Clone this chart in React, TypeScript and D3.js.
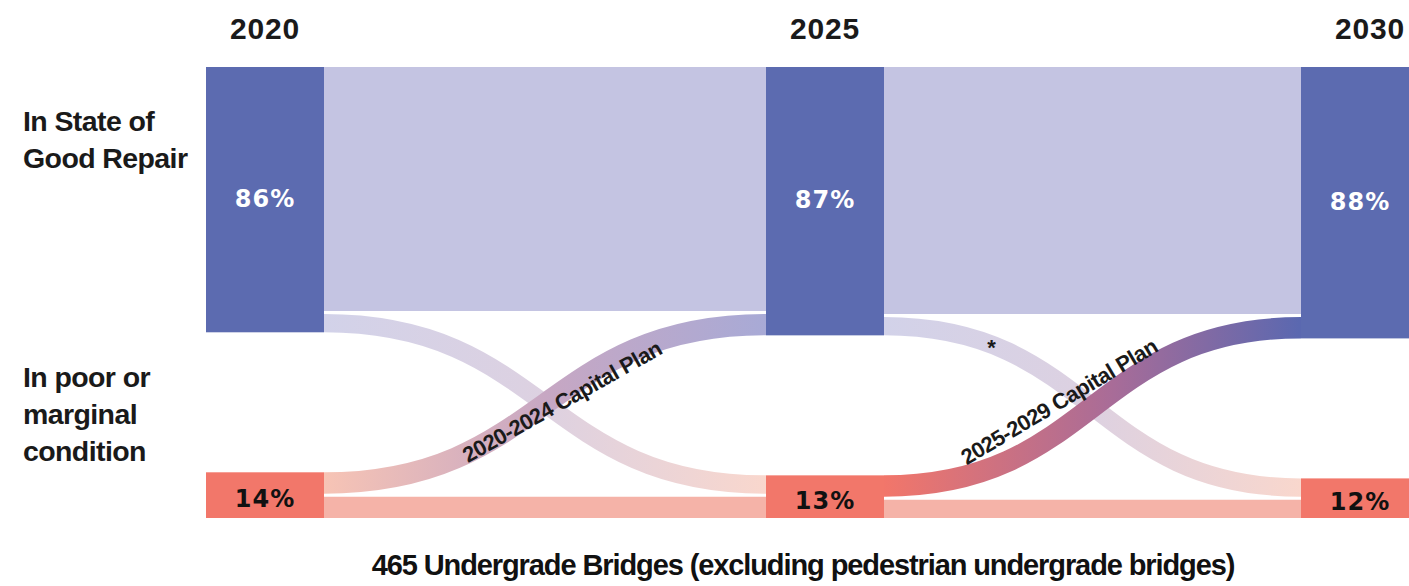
import React from 'react';
import * as d3 from 'd3';

// ---------- data ----------
const years = [2020, 2025, 2030];
const goodShare = [86, 87, 88];
const poorShare = [14, 13, 12];
const rowLabelGood = ['In State of', 'Good Repair'];
const rowLabelPoor = ['In poor or', 'marginal', 'condition'];
const planLabels = ['2020-2024 Capital Plan', '2025-2029 Capital Plan'];
// flows between consecutive years (period p: years[p] -> years[p+1])
const goodToGood = [80, 81];
const goodToPoor = [6, 6];
const poorToGood = [7, 7];
const poorToPoor = [7, 6];
const goodToPoorMarks = ['', '*'];
const title = '465 Undergrade Bridges (excluding pedestrian undergrade bridges)';

// ---------- layout / style ----------
const W = 1409;
const H = 586;
const FONT = "'Liberation Sans', Arial, Helvetica, sans-serif";
const PCT_FONT = "'DejaVu Sans', Verdana, sans-serif";
const NODE_W = 118;
const TOP = 67;
const BOTTOM = 518;
const GAP = 3;

const C_GOOD = '#5c6bb0';
const C_POOR = '#f2776a';
const C_GG = '#c4c4e2';
const C_PP = '#f5b3a8';
const C_GP = ['#d2d2e9', '#ddd1e1', '#f9d7cd'];
const C_PG = [
  ['#f7c4b5', '#c7a7c3', '#a8aad6'],
  ['#f2766a', '#a86c98', '#5a68b0'],
];
// text placement on the plan-label line: [shift along line from band middle (px), dy]
const PLAN_LABEL_POS = [
  [16, 14],
  [-26, -14],
];
const LABEL_HALF = 260;

const k = d3.scaleLinear().domain([0, 100]).range([0, 305]);
const colX = d3.scaleOrdinal<number, number>().domain(years).range([206, 766, 1301]);

function bez(x0: number, y0: number, x1: number, y1: number, t: number) {
  const xm = (x0 + x1) / 2;
  const mt = 1 - t;
  const x = x0 * mt * mt * mt + xm * 3 * mt * mt * t + xm * 3 * mt * t * t + x1 * t * t * t;
  const s = 3 * t * t - 2 * t * t * t;
  const y = y0 + (y1 - y0) * s;
  return [x, y];
}

export default function App() {
  const goodTop = years.map(() => TOP);
  const goodH = goodShare.map((v) => k(v) + GAP);
  const poorH = poorShare.map((v) => k(v) + GAP);
  const poorTop = poorH.map((h) => BOTTOM - h);

  const linkGen = d3
    .linkHorizontal<any, [number, number]>()
    .source((d: any) => d.s)
    .target((d: any) => d.t);

  type Link = {
    id: string;
    x0: number;
    x1: number;
    y0: number;
    y1: number;
    w: number;
    stops: string[];
    period: number;
    kind: string;
  };
  const links: Link[] = [];
  for (let p = 0; p < years.length - 1; p++) {
    const x0 = colX(years[p]) + NODE_W;
    const x1 = colX(years[p + 1]);
    const wgg = k(goodToGood[p]);
    const wgp = k(goodToPoor[p]);
    const wpg = k(poorToGood[p]);
    const wpp = k(poorToPoor[p]);
    links.push({
      id: `gg${p}`, kind: 'gg', period: p, x0, x1,
      y0: goodTop[p] + wgg / 2, y1: goodTop[p + 1] + wgg / 2, w: wgg,
      stops: [C_GG, C_GG, C_GG],
    });
    links.push({
      id: `pp${p}`, kind: 'pp', period: p, x0, x1,
      y0: poorTop[p] + wpg + GAP + wpp / 2,
      y1: poorTop[p + 1] + wgp + GAP + wpp / 2, w: wpp,
      stops: [C_PP, C_PP, C_PP],
    });
    links.push({
      id: `gp${p}`, kind: 'gp', period: p, x0, x1,
      y0: goodTop[p] + wgg + GAP + wgp / 2,
      y1: poorTop[p + 1] + wgp / 2, w: wgp,
      stops: C_GP,
    });
    links.push({
      id: `pg${p}`, kind: 'pg', period: p, x0, x1,
      y0: poorTop[p] + wpg / 2,
      y1: goodTop[p + 1] + wgg + GAP + wpg / 2, w: wpg,
      stops: C_PG[p],
    });
  }

  const pgLinks = links.filter((l) => l.kind === 'pg');
  const gpLinks = links.filter((l) => l.kind === 'gp');

  return (
    <svg width={W} height={H} style={{ position: 'absolute', left: 0, top: 0, background: '#fff' }}>
      <defs>
        {links.map((l) => (
          <linearGradient key={l.id} id={`grad-${l.id}`} gradientUnits="userSpaceOnUse" x1={l.x0} x2={l.x1} y1={0} y2={0}>
            <stop offset="0%" stopColor={l.stops[0]} />
            <stop offset={l.kind === 'pg' && l.period === 1 ? '55%' : '50%'} stopColor={l.stops[1]} />
            <stop offset="100%" stopColor={l.stops[2]} />
          </linearGradient>
        ))}
        {pgLinks.map((l) => {
          const a = bez(l.x0, l.y0, l.x1, l.y1, 0.2);
          const b = bez(l.x0, l.y0, l.x1, l.y1, 0.8);
          const m = bez(l.x0, l.y0, l.x1, l.y1, 0.5);
          const len = Math.hypot(b[0] - a[0], b[1] - a[1]);
          const ux = (b[0] - a[0]) / len;
          const uy = (b[1] - a[1]) / len;
          return (
            <path
              key={l.id}
              id={`label-${l.id}`}
              d={`M${m[0] - ux * LABEL_HALF},${m[1] - uy * LABEL_HALF}L${m[0] + ux * LABEL_HALF},${m[1] + uy * LABEL_HALF}`}
            />
          );
        })}
      </defs>

      {/* links */}
      {['gg', 'pp', 'gp', 'pg'].map((kind) =>
        links
          .filter((l) => l.kind === kind)
          .map((l) => (
            <path
              key={l.id}
              d={linkGen({ s: [l.x0, l.y0], t: [l.x1, l.y1] } as any) as string}
              fill="none"
              stroke={`url(#grad-${l.id})`}
              strokeWidth={l.w}
            />
          ))
      )}

      {/* nodes */}
      {years.map((y, i) => (
        <g key={y}>
          <rect x={colX(y)} y={goodTop[i]} width={NODE_W} height={goodH[i]} fill={C_GOOD} />
          <rect x={colX(y)} y={poorTop[i]} width={NODE_W} height={poorH[i]} fill={C_POOR} />
          <text
            x={colX(y) + NODE_W / 2}
            y={goodTop[i] + goodH[i] / 2 + 7}
            textAnchor="middle"
            fontFamily={PCT_FONT}
            fontWeight="bold"
            fontSize={24}
            letterSpacing={1}
            fill="#fff"
          >
            {goodShare[i]}%
          </text>
          <text
            x={colX(y) + NODE_W / 2}
            y={poorTop[i] + poorH[i] / 2 + 12}
            textAnchor="middle"
            fontFamily={PCT_FONT}
            fontWeight="bold"
            fontSize={24}
            letterSpacing={1}
            fill="#111"
          >
            {poorShare[i]}%
          </text>
          <text
            x={i === years.length - 1 ? W - 4 : colX(y) + NODE_W / 2}
            y={39}
            textAnchor={i === years.length - 1 ? 'end' : 'middle'}
            fontFamily={FONT}
            fontWeight="bold"
            fontSize={30}
            letterSpacing={0.8}
            fill="#1a1a1a"
          >
            {y}
          </text>
        </g>
      ))}

      {/* plan labels */}
      {pgLinks.map((l, p) => (
        <text
          key={`pl${p}`}
          fontFamily={FONT}
          fontWeight="bold"
          fontSize={22}
          letterSpacing={-0.6}
          fill="#1a1a1a"
          dy={PLAN_LABEL_POS[p][1]}
        >
          <textPath href={`#label-${l.id}`} startOffset={LABEL_HALF + PLAN_LABEL_POS[p][0]} textAnchor="middle">
            {planLabels[p]}
          </textPath>
        </text>
      ))}

      {/* marks on good->poor flows */}
      {gpLinks.map((l, p) => {
        if (!goodToPoorMarks[p]) return null;
        const pt = bez(l.x0, l.y0, l.x1, l.y1, 0.21);
        return (
          <text key={`m${p}`} x={pt[0]} y={pt[1] + 10} textAnchor="middle" fontFamily={FONT} fontWeight="bold" fontSize={22} fill="#1a1a1a">
            {goodToPoorMarks[p]}
          </text>
        );
      })}

      {/* row labels */}
      <text fontFamily={FONT} fontWeight="bold" fontSize={28.5} letterSpacing={-0.6} fill="#1a1a1a">
        {rowLabelGood.map((s, i) => (
          <tspan key={s} x={23} y={131 + i * 37}>
            {s}
          </tspan>
        ))}
      </text>
      <text fontFamily={FONT} fontWeight="bold" fontSize={28.5} letterSpacing={-0.6} fill="#1a1a1a">
        {rowLabelPoor.map((s, i) => (
          <tspan key={s} x={23} y={387 + i * 37}>
            {s}
          </tspan>
        ))}
      </text>

      {/* title */}
      <text x={803} y={575} textAnchor="middle" fontFamily={FONT} fontWeight="bold" fontSize={29} letterSpacing={-1.1} fill="#111">
        {title}
      </text>
    </svg>
  );
}
